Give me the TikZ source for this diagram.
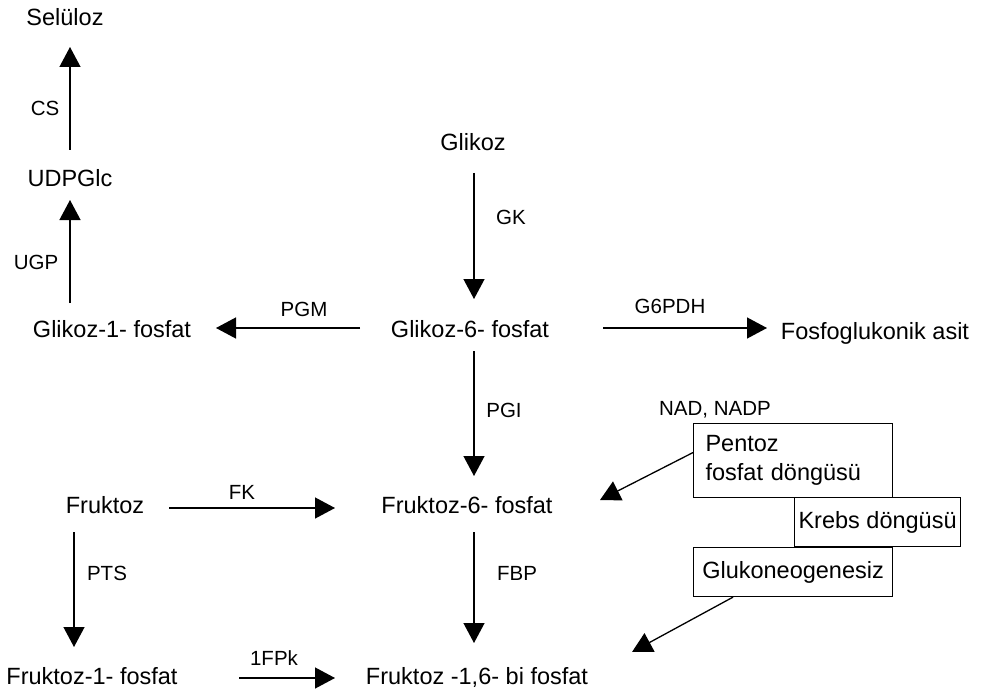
\documentclass[tikz,border=0pt]{standalone}
\usepackage{fontspec}
\setmainfont{Liberation Sans}
\usetikzlibrary{arrows.meta}
\begin{document}
\begin{tikzpicture}[x=1pt,y=-1pt,
  met/.style={inner sep=0pt, font=\fontsize{23.5}{29}\selectfont, text height=17pt, text depth=0pt},
  enz/.style={inner sep=0pt, font=\fontsize{20.5}{25}\selectfont, text height=15pt, text depth=0pt},
  arr/.style={draw=black, line width=1.3pt, -{Triangle[length=20pt,width=21pt]}},
  boxn/.style={draw=black, line width=1.1pt, font=\fontsize{23.5}{29}\selectfont}
]
\useasboundingbox (0,0) rectangle (984,695);
% metabolites
\node[met] (sel) at (65,17) {Selüloz};
\node[met] (udp) at (70,178) {UDPGlc};
\node[met] (g1p) at (112,329) {Glikoz-1- fosfat};
\node[met] (glk) at (473,142) {Glikoz};
\node[met] (g6p) at (470,329) {Glikoz-6- fosfat};
\node[met] (fos) at (875,331) {Fosfoglukonik asit};
\node[met] (fru) at (105,505) {Fruktoz};
\node[met] (f6p) at (467,505) {Fruktoz-6- fosfat};
\node[met] (f1p) at (92,676) {Fruktoz-1- fosfat};
\node[met] (f16p) at (477,676) {Fruktoz -1,6- bi fosfat};
% enzymes
\node[enz] (cs) at (45,108) {CS};
\node[enz] (ugp) at (36,262) {UGP};
\node[enz] (gk) at (511,217) {GK};
\node[enz] (pgm) at (304,309) {PGM};
\node[enz] (g6pdh) at (670,306) {G6PDH};
\node[enz] (pgi) at (504,410) {PGI};
\node[enz] (nad) at (715,408) {NAD, NADP};
\node[enz] (fk) at (242,492) {FK};
\node[enz] (pts) at (107,573) {PTS};
\node[enz] (fbp) at (517,573) {FBP};
\node[enz] (fpk) at (274,658) {1FPk};
% boxes
\node[boxn, minimum height=74pt, inner xsep=12pt, text width=175pt, align=left, anchor=north west] (pent) at (693,423) {Pentoz\\fosfat döngüsü};
\node[boxn, minimum width=166pt, minimum height=49pt, inner xsep=4pt, anchor=north west] (krebs) at (794,497) {Krebs döngüsü};
\node[boxn, minimum width=199pt, minimum height=49pt, inner xsep=6pt, anchor=north west] (gluk) at (693,547) {Glukoneogenesiz};
\coordinate (t1) at (600,500);
\coordinate (t2) at (632,652);
% arrows
\draw[arr, shorten <=28pt, shorten >=30pt] (udp.center) -- (sel.center -| udp.center);
\draw[arr, shorten <=26pt, shorten >=22pt] (udp.center |- g1p.center) -- (udp.center);
\draw[arr, shorten <=31pt, shorten >=30pt] ([xshift=1pt]glk.center) -- ([xshift=1pt]glk.center |- g6p.center);
\draw[arr, shorten <=22pt, shorten >=29pt] ([xshift=1pt]glk.center |- g6p.center) -- ([xshift=1pt]glk.center |- f6p.center);
\draw[arr, shorten <=27pt, shorten >=33pt] ([xshift=1pt]glk.center |- f6p.center) -- ([xshift=1pt]glk.center |- f16p.center);
\draw[arr, shorten <=110pt, shorten >=104pt] ([yshift=1pt]g6p.center) -- ([yshift=1pt]g6p.center -| g1p.center);
\draw[arr, shorten <=133pt, shorten >=108pt] ([yshift=1pt]g6p.center) -- ([yshift=1pt]g6p.center -| fos.center);
\draw[arr, shorten <=64pt, shorten >=132pt] ([yshift=-3pt]fru.center) -- ([yshift=-3pt]f6p.center);
\draw[arr, shorten <=27pt, shorten >=29pt] ([xshift=-31pt]fru.center) -- ([xshift=-31pt]fru.center |- f1p.center);
\draw[arr, shorten <=147pt, shorten >=142pt] ([yshift=-2pt]f1p.center) -- ([yshift=-2pt]f16p.center);
\draw[arr] ([yshift=8pt]pent.west) -- (t1);
\draw[arr] ([xshift=-60pt]gluk.south) -- (t2);
\end{tikzpicture}
\end{document}
